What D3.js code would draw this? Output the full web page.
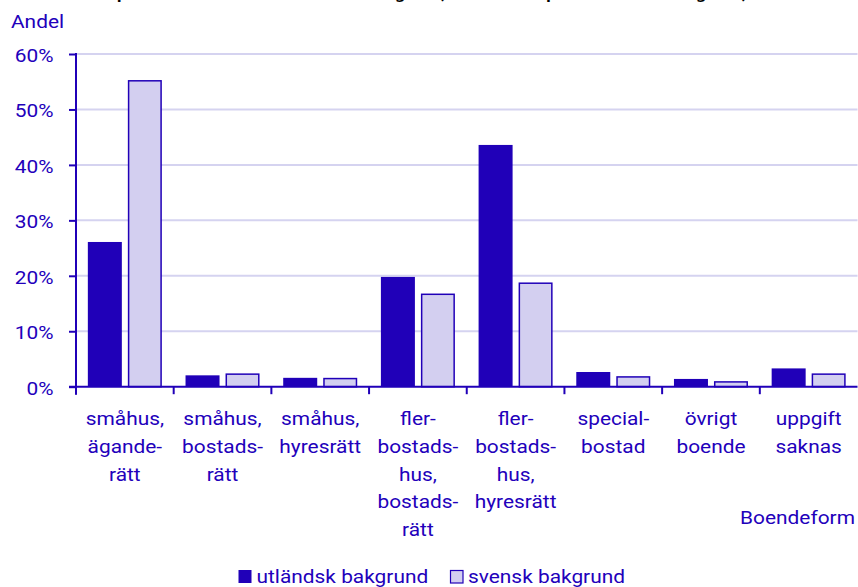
<!DOCTYPE html>
<html><head><meta charset="utf-8">
<script src="https://cdn.jsdelivr.net/npm/d3@7"></script>
<style>
html,body{margin:0;padding:0;background:#fff;}
svg{display:block;font-family:Roboto, "Noto Sans", sans-serif;}
</style></head>
<body>
<svg id="chart" width="858" height="587"></svg>
<script>
const title = "Andel personer efter boendeform och bakgrund, utländsk respektive svensk bakgrund, 2023";
const categories = ["småhus, äganderätt","småhus, bostadsrätt","småhus, hyresrätt","flerbostadshus, bostadsrätt","flerbostadshus, hyresrätt","specialbostad","övrigt boende","uppgift saknas"];
const categoryLines = [["småhus,","ägande-","rätt"],["småhus,","bostads-","rätt"],["småhus,","hyresrätt"],["fler-","bostads-","hus,","bostads-","rätt"],["fler-","bostads-","hus,","hyresrätt"],["special-","bostad"],["övrigt","boende"],["uppgift","saknas"]];
const seriesNames = ["utländsk bakgrund","svensk bakgrund"];
const utlandsk = [26.1, 2.05, 1.6, 19.8, 43.6, 2.65, 1.4, 3.3];
const svensk   = [55.3, 2.4, 1.6, 16.8, 18.8, 1.9, 1.0, 2.4];
const yTicks = [0,10,20,30,40,50,60];
const yLabel = "Andel";
const xLabel = "Boendeform";

const dark = "#2000b8", light = "#d3cff0", textCol = "#2200bb", grid = "#d5d3f0";
const SX = 1.13, FS = 18.5;
const svg = d3.select("#chart");
const L = 76, R = 857.5, T = 54, B = 386.7;

const x = d3.scaleBand().domain(categories).range([L, R]).paddingInner(0).paddingOuter(0);
const xs = d3.scaleBand().domain(seriesNames).range([0, x.bandwidth()]).paddingInner(0.15).paddingOuter(0.296);
const y = d3.scaleLinear().domain([0, 60]).range([B, T]);

function stext(g, str, tx, ty, anchor, opts={}) {
  return g.append("text").attr("transform", `translate(${tx},${ty}) scale(${SX},1)`)
    .attr("text-anchor", anchor).attr("fill", opts.fill || textCol)
    .attr("font-size", opts.size || FS).attr("font-weight", opts.weight || 400).text(str);
}

// title (cut off at top, as in the reference)
stext(svg, title, 429, -1, "middle", {fill:"#000", size:15.5, weight:700});

// gridlines
svg.append("g").selectAll("line").data(yTicks.filter(d=>d>0)).join("line")
  .attr("x1", L).attr("x2", R).attr("y1", d=>y(d)).attr("y2", d=>y(d))
  .attr("stroke", grid).attr("stroke-width", 2);

// bars
const data = categories.map((c,i)=>({c, vals:[utlandsk[i], svensk[i]]}));
const gb = svg.append("g");
data.forEach(d=>{
  d.vals.forEach((v,j)=>{
    gb.append("rect")
      .attr("x", x(d.c) + xs(seriesNames[j]) + (j===1?0.75:0))
      .attr("width", xs.bandwidth() - (j===1?1.5:0))
      .attr("y", y(v) + (j===1?0.75:0))
      .attr("height", Math.max(0, B - y(v) - (j===1?0.75:0)))
      .attr("fill", j===0?dark:light)
      .attr("stroke", j===1?dark:"none").attr("stroke-width", 1.5);
  });
});

// y axis
const ya = svg.append("g").attr("transform", `translate(${L},0)`)
  .call(d3.axisLeft(y).tickValues(yTicks).tickSize(7).tickFormat(()=>""));
ya.select(".domain").attr("stroke", dark).attr("stroke-width", 2).attr("d", `M0,${T-1}V${B+8}`);
ya.selectAll(".tick line").attr("stroke", dark).attr("stroke-width", 2);
yTicks.forEach(t=>stext(svg, t + "%", 53.5, y(t) + 8, "end"));

// x axis
const xa = svg.append("g").attr("transform", `translate(0,${B})`)
  .call(d3.axisBottom(x).tickSize(0).tickFormat(()=>""));
xa.select(".domain").attr("stroke", dark).attr("stroke-width", 2).attr("d", `M${L-7},0H${R}`);
const bounds = categories.map(c=>x(c));
svg.append("g").selectAll("line").data(bounds).join("line")
  .attr("x1", d=>d).attr("x2", d=>d).attr("y1", B).attr("y2", B+7.5)
  .attr("stroke", dark).attr("stroke-width", 2);

// category labels
categories.forEach((c,i)=>{
  const cx = x(c) + x.bandwidth()/2;
  categoryLines[i].forEach((ln,k)=> stext(svg, ln, cx, 425 + k*27.75, "middle"));
});

// axis titles
stext(svg, yLabel, 11, 27.5, "start");
stext(svg, xLabel, 855, 524, "end");

// legend
const lg = svg.append("g");
lg.append("rect").attr("x", 238.5).attr("y", 570).attr("width", 13).attr("height", 13).attr("fill", dark);
stext(lg, seriesNames[0], 256.5, 583, "start");
lg.append("rect").attr("x", 450.5).attr("y", 570.5).attr("width", 12.5).attr("height", 12.5).attr("fill", light).attr("stroke", dark).attr("stroke-width", 1.2);
stext(lg, seriesNames[1], 468, 583, "start");
</script>
</body></html>
